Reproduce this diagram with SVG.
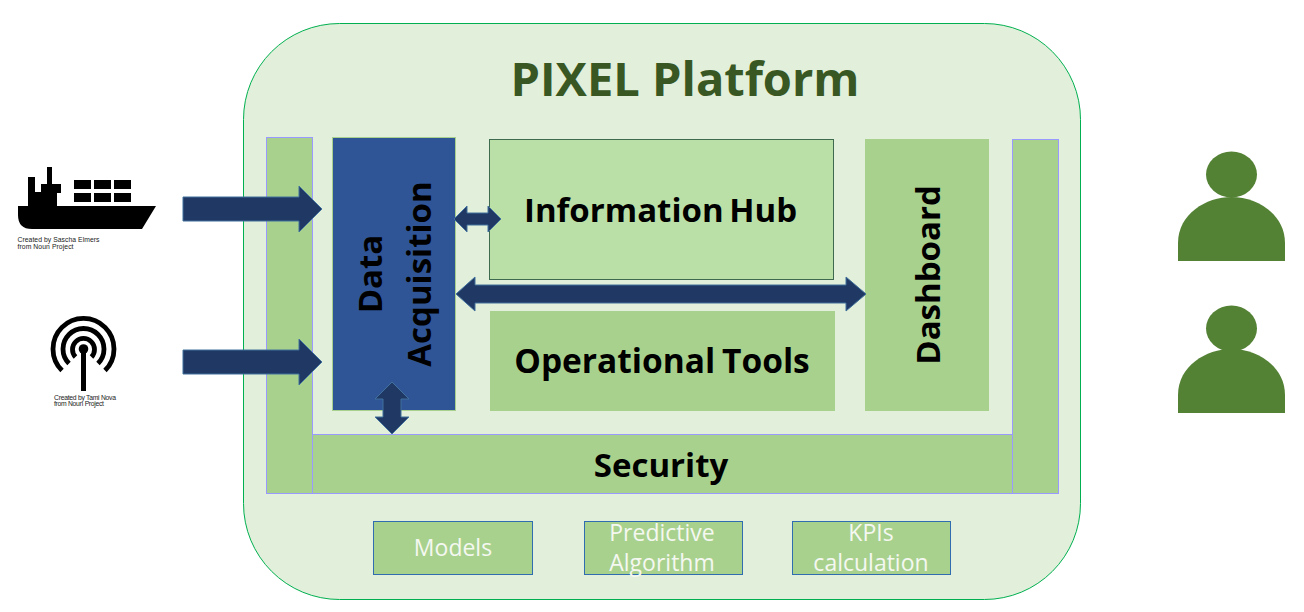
<svg xmlns="http://www.w3.org/2000/svg" width="1304" height="612" viewBox="0 0 1304 612">
<style>
text{font-family:"Open Sans","Noto Sans","Liberation Sans",sans-serif}
.b{font-weight:700;fill:#000;text-anchor:middle}
.w{font-size:23px;fill:#f4f8f1;text-anchor:middle}
.sec{fill:#A9D18E;stroke:#9999FF;stroke-width:1}
.sm{fill:#A9D18E;stroke:#2F6DB0;stroke-width:1}
.ar{fill:#1F3864;stroke:#41719C;stroke-width:1}
.cr{font-family:"Liberation Sans",sans-serif;font-size:6.800px;fill:#222}
.p{fill:#548235}
.arc{fill:none;stroke:#000;stroke-width:4.800}
</style>
<rect width="1304" height="612" fill="#fff"/>
<g id="platform">
<rect x="243.500" y="23.500" width="837" height="576" rx="96" fill="#E2EFDA" stroke="#00B050" stroke-width="1"/>
<text x="685" y="96" font-size="47" font-weight="700" fill="#385723" text-anchor="middle">PIXEL Platform</text>
</g>
<g id="security">
<rect class="sec" x="266.500" y="137.500" width="46" height="356"/>
<rect class="sec" x="1012.500" y="139.500" width="46" height="354"/>
<rect class="sec" x="312.500" y="434.500" width="700" height="59"/>
<text class="b" x="661" y="477" font-size="33">Security</text>
</g>
<g id="data-acquisition">
<rect x="332.500" y="137.500" width="123" height="273" fill="#2F5597" stroke="#A9D18E" stroke-width="1"/>
<text class="b" font-size="33" transform="translate(394 274) rotate(-90)"><tspan x="0" y="-12">Data</tspan><tspan x="0" y="37">Acquisition</tspan></text>
</g>
<g id="information-hub">
<rect x="489.500" y="139.500" width="344" height="140" fill="#BADFA7" stroke="#3E6A50" stroke-width="1"/>
<text class="b" x="660.500" y="222" font-size="33" word-spacing="-3">Information Hub</text>
</g>
<g id="operational-tools">
<rect x="490" y="311" width="345" height="100" fill="#A9D18E"/>
<text class="b" x="662" y="373" font-size="33.500" word-spacing="-2">Operational Tools</text>
</g>
<g id="dashboard">
<rect x="865" y="139" width="124" height="272" fill="#A9D18E"/>
<text class="b" font-size="33" transform="translate(940 275) rotate(-90)" y="0">Dashboard</text>
</g>
<g id="models">
<rect class="sm" x="373.500" y="521.500" width="159" height="53"/>
<text class="w" x="453" y="556">Models</text>
</g>
<g id="predictive-algorithm">
<rect class="sm" x="584.500" y="521.500" width="158" height="53"/>
<text class="w" x="662" y="541">Predictive</text>
<text class="w" x="662" y="571">Algorithm</text>
</g>
<g id="kpis-calculation">
<rect class="sm" x="792.500" y="521.500" width="158" height="53"/>
<text class="w" x="871" y="541">KPIs</text>
<text class="w" x="871" y="571">calculation</text>
</g>
<g id="connectors">
<polygon class="ar" points="183,197 299,197 299,186 322,209 299,232 299,221 183,221"/>
<polygon class="ar" points="183,350 299,350 299,339 322,362 299,385 299,374 183,374"/>
<polygon class="ar" points="454,219 467,206 467,213 488,213 488,206 501,219 488,232 488,225 467,225 467,232"/>
<polygon class="ar" points="456,294 475,277 475,285 846,285 846,277 866,294 846,311 846,303 475,303 475,311"/>
<polygon class="ar" points="392,382 409,399 401,399 401,417 409,417 392,434 375,417 383,417 383,399 375,399"/>
</g>
<g id="ship">
<path d="M18 206H156L142 229H32Q18 229 18 215Z M28 206V177H35V192H41V184H47V167H52V184H61V193H57V206Z"/>
<path d="M74 180h17v9h-17z M94 180h17v9h-17z M114 180h17v9h-17z M74 193h17v9h-17z M94 193h17v9h-17z M114 193h17v9h-17z"/>
<text class="cr" x="17.500" y="241.500" textLength="82">Created by Sascha Elmers</text>
<text class="cr" x="17.500" y="248.500" textLength="56">from Noun Project</text>
</g>
<g id="antenna">
<path class="arc" d="M62 370.500A30.500 30.500 0 1 1 105 370.500"/>
<path class="arc" d="M69 363.500A20.500 20.500 0 1 1 98 363.500"/>
<path class="arc" d="M75.500 357A11 11 0 1 1 91.500 357"/>
<circle cx="83.500" cy="349" r="4.800"/>
<rect x="81" y="349" width="5" height="42"/>
<text class="cr" x="54" y="399.500" textLength="62">Created by Tami Nova</text>
<text class="cr" x="54" y="406" textLength="50">from Noun Project</text>
</g>
<g id="user-1">
<ellipse class="p" cx="1231.500" cy="174.500" rx="25.500" ry="23"/>
<path class="p" d="M1178 261V243C1178 214 1206 197 1231.500 197S1285 214 1285 243V261Z"/>
</g>
<g id="user-2">
<ellipse class="p" cx="1231.500" cy="328.500" rx="25.500" ry="23"/>
<path class="p" d="M1178 413V395C1178 366 1206 349 1231.500 349S1285 366 1285 395V413Z"/>
</g>
</svg>
